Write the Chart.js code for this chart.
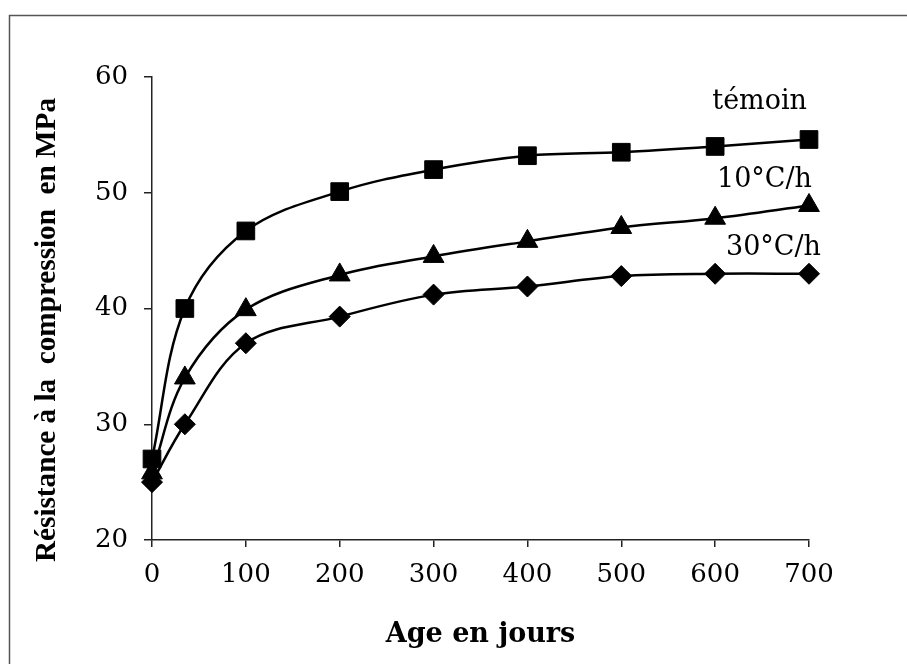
<!DOCTYPE html>
<html>
<head>
<meta charset="utf-8">
<script src="https://cdn.jsdelivr.net/npm/chart.js@4/dist/chart.umd.min.js"></script>
<style>
    html, body { margin: 0; padding: 0; background: #fff; }
    #wrap { width: 907px; height: 664px; }
</style>
</head>
<body>
<div id="wrap"><canvas id="chart" width="907" height="664"></canvas></div>
<script>
// Data
const ages = [0, 35, 100, 200, 300, 400, 500, 600, 700];
const temoin = [27, 40, 46.7, 50.1, 52, 53.2, 53.5, 54, 54.6];
const rate10 = [25.8, 34, 39.9, 42.9, 44.5, 45.8, 47, 47.8, 48.9];
const rate30 = [25, 30, 37, 39.3, 41.2, 41.9, 42.8, 43, 43];
const seriesNames = ['témoin', '10°C/h', '30°C/h'];
const xTicks = [0, 100, 200, 300, 400, 500, 600, 700];
const yTicks = [20, 30, 40, 50, 60];

const toPoints = vals => ages.map((a, i) => ({ x: a, y: vals[i] }));

const tickFont = { family: '"DejaVu Serif", serif', size: 26 };

// Frame, titles and series labels
const decorations = {
    id: 'decorations',
    beforeDraw(chart) {
        const ctx = chart.ctx;
        ctx.save();
        ctx.fillStyle = '#fff';
        ctx.fillRect(0, 0, chart.width, chart.height);
        ctx.strokeStyle = '#555';
        ctx.lineWidth = 1.5;
        ctx.strokeRect(9.5, 15.5, 1000, 1000);
        ctx.restore();
    },
    afterDraw(chart) {
        const ctx = chart.ctx;
        const xs = chart.scales.x;
        ctx.save();
        ctx.fillStyle = '#000';

        // series labels
        ctx.font = '27px "DejaVu Serif", serif';
        ctx.textAlign = 'right';
        ctx.textBaseline = 'alphabetic';
        ctx.fillText(seriesNames[0], 807, 109);
        ctx.fillText(seriesNames[1], 812, 187);
        ctx.fillText(seriesNames[2], 821, 255);

        // x title
        ctx.font = 'bold 27px "DejaVu Serif", serif';
        ctx.textAlign = 'center';
        ctx.fillText('Age en jours', (xs.left + xs.right) / 2, 642);

        // y title, squeezed to the original length
        const yTitle = 'Résistance à la  compression  en MPa';
        ctx.font = 'bold 29px "Liberation Serif", serif';
        const w = ctx.measureText(yTitle).width;
        const target = 464;
        ctx.translate(55, 330);
        ctx.rotate(-Math.PI / 2);
        ctx.scale(target / w, 1);
        ctx.textAlign = 'center';
        ctx.fillText(yTitle, 0, 0);
        ctx.restore();
    }
};

const mkSet = (label, vals, style, radius) => ({
    label: label,
    data: toPoints(vals),
    borderColor: '#000',
    backgroundColor: '#000',
    borderWidth: 2.5,
    pointStyle: style,
    pointRadius: radius,
    pointHoverRadius: radius,
    pointBorderWidth: 1,
    pointBackgroundColor: '#000',
    pointBorderColor: '#000',
    tension: 0.35,
    clip: false,
    fill: false
});

new Chart(document.getElementById('chart'), {
    type: 'line',
    data: {
        datasets: [
            mkSet(seriesNames[0], temoin, 'rect', 12.5),
            mkSet(seriesNames[1], rate10, 'triangle', 12),
            mkSet(seriesNames[2], rate30, 'rectRot', 10.5)
        ]
    },
    options: {
        responsive: false,
        animation: false,
        devicePixelRatio: 1,
        layout: { padding: { left: 0, top: 77, right: 98, bottom: 0 } },
        plugins: {
            legend: { display: false },
            tooltip: { enabled: false }
        },
        scales: {
            x: {
                type: 'linear',
                min: 0,
                max: 700,
                afterFit: scale => { scale.height = 124; },
                afterBuildTicks: scale => { scale.ticks = xTicks.map(v => ({ value: v })); },
                border: { display: true, color: '#222', width: 1.5 },
                grid: { display: true, drawOnChartArea: false, drawTicks: true, tickLength: 7, color: '#222', lineWidth: 1.5 },
                ticks: { color: '#000', font: tickFont, padding: 13, maxRotation: 0 }
            },
            y: {
                type: 'linear',
                min: 20,
                max: 60,
                afterFit: scale => { scale.width = 152; },
                afterBuildTicks: scale => { scale.ticks = yTicks.map(v => ({ value: v })); },
                border: { display: true, color: '#222', width: 1.5 },
                grid: { display: true, drawOnChartArea: false, drawTicks: true, tickLength: 8, color: '#222', lineWidth: 1.5 },
                ticks: { color: '#000', font: tickFont, padding: 16 }
            }
        }
    },
    plugins: [decorations]
});
</script>
</body>
</html>
